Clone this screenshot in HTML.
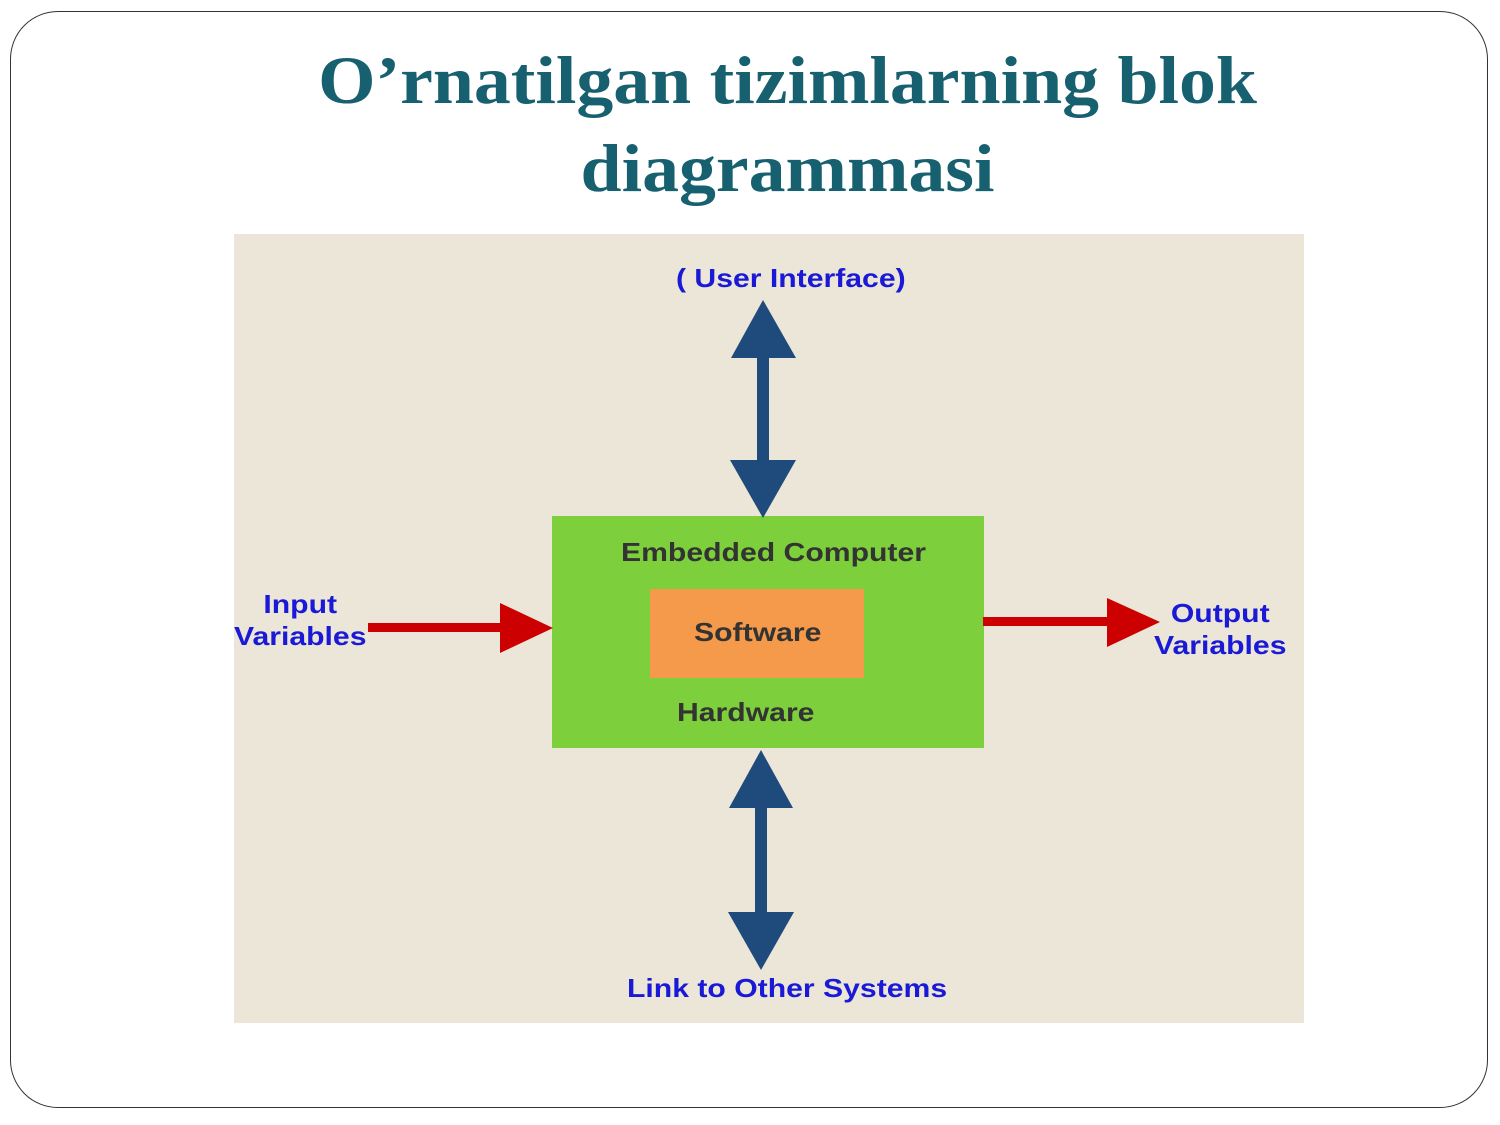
<!DOCTYPE html>
<html><head><style>
body{margin:0;width:1500px;height:1125px;background:#fff;position:relative;overflow:hidden;font-family:"Liberation Sans",sans-serif}
.frame{position:absolute;left:10px;top:11px;width:1478px;height:1097px;border:1.5px solid #333;border-radius:48px;box-sizing:border-box}
.title{position:absolute;left:0;width:1575px;text-align:center;font-family:"Liberation Serif",serif;font-weight:bold;font-size:68px;color:#17606f;line-height:88px;top:36px;transform:scaleX(1.085);transform-origin:787px 0}
.t{position:absolute;font-weight:bold;white-space:nowrap;transform:scaleX(1.16);transform-origin:0 0}
</style></head><body>
<div class="frame"></div>
<div class="title">O’rnatilgan tizimlarning blok<br>diagrammasi</div>
<svg style="position:absolute;left:0;top:0" width="1500" height="1125">
<rect x="234" y="234" width="1070" height="789" fill="#ebe6d8"/>
<rect x="552" y="516" width="432" height="232" fill="#7dcf3c"/>
<rect x="650" y="589" width="214" height="89" fill="#f59a4a"/>
<g fill="#1f4a7c">
<polygon points="763,300 796,358 731,358"/><rect x="757" y="356" width="12" height="106"/><polygon points="730,460 796,460 763,518"/>
<polygon points="761,750 793,808 729,808"/><rect x="755" y="806" width="12" height="108"/><polygon points="728,912 794,912 761,970"/>
</g>
<g fill="#cc0000">
<rect x="368" y="623" width="134" height="9"/><polygon points="500,603 553,628 500,653"/>
<rect x="983" y="617" width="126" height="9"/><polygon points="1107,598 1160,622 1107,647"/>
</g>
</svg>
<div class="t" style="left:676px;top:263px;font-size:26px;color:#1a1ad6">( User Interface)</div>
<div class="t" style="left:234px;top:588px;font-size:26px;color:#1a1ad6;text-align:center;line-height:32px">Input<br>Variables</div>
<div class="t" style="left:1154px;top:597px;font-size:26px;color:#1a1ad6;text-align:center;line-height:32px">Output<br>Variables</div>
<div class="t" style="left:627px;top:973px;font-size:26px;color:#1a1ad6">Link to Other Systems</div>
<div class="t" style="left:621px;top:537px;font-size:26px;color:#333">Embedded Computer</div>
<div class="t" style="left:694px;top:617px;font-size:26px;color:#333">Software</div>
<div class="t" style="left:677px;top:697px;font-size:26px;color:#333">Hardware</div>
</body></html>
